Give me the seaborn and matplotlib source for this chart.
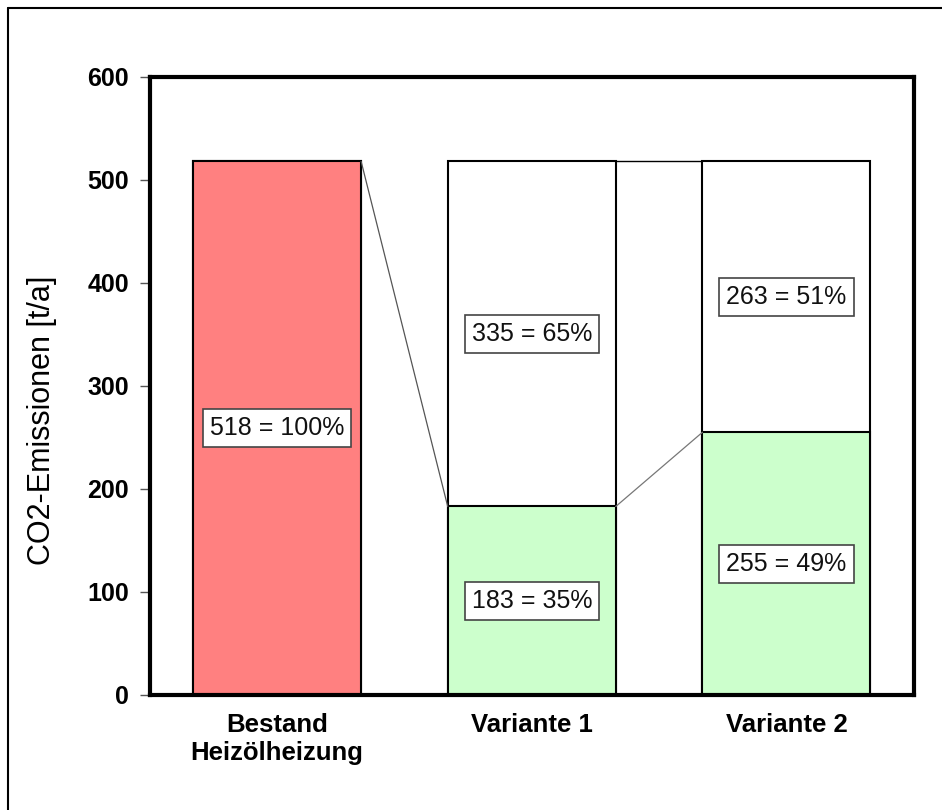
import pandas as pd
import matplotlib.pyplot as plt
import seaborn as sns

# Daten (CO2-Emissionen in t/a)
kategorien = ['Bestand\nHeizölheizung', 'Variante 1', 'Variante 2']
emissionen = [518, 183, 255]          # unterer Balkenteil
einsparung = [0, 335, 263]            # oberer (weißer) Teil
farben = ['#FF8080', '#CCFFCC', '#CCFFCC']

sns.set_theme(style='white')
plt.rcParams['font.family'] = ['Liberation Sans', 'DejaVu Sans']
plt.rcParams['text.color'] = 'black'
plt.rcParams['axes.labelcolor'] = 'black'
plt.rcParams['xtick.color'] = 'black'
plt.rcParams['ytick.color'] = 'black'

gesamt = [e + s for e, s in zip(emissionen, einsparung)]
df = pd.DataFrame({'Kategorie': kategorien, 'Emission': emissionen,
                   'Einsparung': einsparung, 'Gesamt': gesamt})

fig = plt.figure(figsize=(9.42, 8.1), dpi=100)
ax = fig.add_axes([0.159, 0.142, 0.811, 0.763])

breite = 0.66
# weißer Gesamtbalken hinten, farbiger Emissionsbalken davor
sns.barplot(data=df, x='Kategorie', y='Gesamt', color='white', width=breite,
            edgecolor='black', linewidth=1.5, ax=ax, saturation=1)
sns.barplot(data=df, x='Kategorie', y='Emission', hue='Kategorie', palette=farben,
            width=breite, edgecolor='black', linewidth=1.5, ax=ax, saturation=1,
            legend=False)

# Verbindungslinien
h = breite / 2
ax.plot([0 + h, 1 - h], [gesamt[0], emissionen[1]], color='#555555', lw=0.9, zorder=1)
ax.plot([1 + h, 2 - h], [gesamt[1], gesamt[2]], color='black', lw=1.0, zorder=1)
ax.plot([1 + h, 2 - h], [emissionen[1], emissionen[2]], color='#777777', lw=0.9, zorder=1)

# Beschriftungen
box = dict(boxstyle='square,pad=0.28', fc='white', ec='#444444', lw=1.2)
basis = gesamt[0]
for i in range(len(kategorien)):
    ax.text(i, emissionen[i] / 2, f'{emissionen[i]} = {round(emissionen[i] / basis * 100)}%',
            ha='center', va='center', fontsize=18, bbox=box, color='#111111')
    if einsparung[i] > 0:
        ax.text(i, emissionen[i] + einsparung[i] / 2,
                f'{einsparung[i]} = {round(einsparung[i] / basis * 100)}%',
                ha='center', va='center', fontsize=18, bbox=box, color='#111111')

ax.set_xlim(-0.5, 2.5)
ax.set_ylim(0, 600)
ax.set_yticks(range(0, 601, 100))
ax.set_xlabel('')
ax.set_ylabel('CO2-Emissionen [t/a]', fontsize=22)
ax.yaxis.set_label_coords(-0.122, 0.445)
ax.tick_params(axis='y', which='major', left=True, length=7, width=1, color='#555555',
               labelsize=18, pad=8)
ax.tick_params(axis='x', bottom=False, labelsize=18.5, pad=7)
for lab in ax.get_yticklabels() + ax.get_xticklabels():
    lab.set_fontweight('bold')
for sp in ax.spines.values():
    sp.set_linewidth(3)
    sp.set_color('black')

# Rahmen um die Grafik (links und oben)
fig.add_artist(plt.Line2D([0.009, 0.009], [0, 0.99], color='black', lw=1.5))
fig.add_artist(plt.Line2D([0.009, 1.0], [0.99, 0.99], color='black', lw=1.5))

fig.savefig('out.png', dpi=100)
